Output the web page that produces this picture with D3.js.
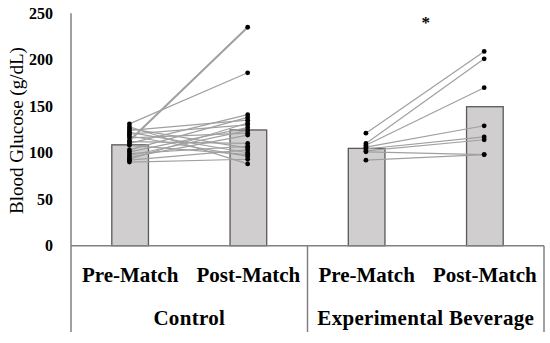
<!DOCTYPE html>
<html>
<head>
<meta charset="utf-8">
<script src="https://cdn.jsdelivr.net/npm/d3@7"></script>
<style>
  body { margin: 0; background: #fff; }
  svg { display: block; }
  text { font-family: "Liberation Serif", "DejaVu Serif", serif; fill: #000; }
</style>
</head>
<body>
<div id="chart"></div>
<script>
const groups = ['Control', 'Experimental Beverage']
const phases = ['Pre-Match', 'Post-Match']
const yTicks = [0, 50, 100, 150, 200, 250]

// bar heights (group means)
const controlMeans = [108.5, 124.5]
const experimentalMeans = [104.7, 149.5]

// individual paired values, pre vs post
const controlPre = [131, 128, 126, 124, 122, 120, 118, 116, 113, 112, 110, 108, 103, 101, 99, 97, 95, 93, 92, 90]
const controlPost = [186, 88, 105, 135, 100, 130, 96, 121, 235, 110, 141, 98, 138, 127, 107, 124, 119, 132, 103, 93]
const experimentalPre = [121, 110, 108, 106, 104, 102, 101, 92]
const experimentalPost = [209, 201, 170, 129, 117, 114, 98, 98]

const significance = [{ group: 'Experimental Beverage', value: 243, label: '*' }]

const width = 550, height = 343
const svg = d3.select('#chart').append('svg')
    .attr('width', width)
    .attr('height', height)

const left = 71, right = 544, baseY = 245.7, topY = 13.3, bottomY = 332

const categories = []
groups.forEach(g => phases.forEach(p => categories.push(g + '|' + p)))

const x = d3.scaleBand()
    .domain(categories)
    .range([left, right])
    .paddingInner(0.69)
    .paddingOuter(0.345)
const groupX = d3.scaleBand()
    .domain(groups)
    .range([left, right])
const y = d3.scaleLinear()
    .domain([0, 250])
    .range([baseY, topY])

const axisColor = '#808080'

// y axis line + labels
const yAxis = d3.axisLeft(y).tickValues(yTicks).tickSize(0).tickPadding(18)
svg.append('g')
    .attr('transform', 'translate(' + left + ',0)')
    .call(yAxis)
    .call(g => g.select('.domain').attr('stroke', axisColor).attr('stroke-width', 1.5).attr('d', 'M0,' + topY + 'V' + bottomY))
    .call(g => g.selectAll('text')
        .style('font-family', '"Liberation Serif", serif')
        .style('font-size', '16px')
        .style('font-weight', 'bold')
        .attr('fill', '#000'))

svg.append('text')
    .attr('transform', 'translate(23,' + (y(125) + 1) + ') rotate(-90)')
    .attr('text-anchor', 'middle')
    .style('font-size', '19px')
    .text('Blood Glucose (g/dL)')

// bars
const means = { 'Control': controlMeans, 'Experimental Beverage': experimentalMeans }
const barData = []
groups.forEach(g => phases.forEach((p, i) => barData.push({ key: g + '|' + p, value: means[g][i] })))

svg.append('g').selectAll('rect')
    .data(barData)
    .enter().append('rect')
    .attr('x', d => x(d.key))
    .attr('y', d => y(d.value))
    .attr('width', x.bandwidth())
    .attr('height', d => y(0) - y(d.value))
    .attr('fill', '#d0cece')
    .attr('stroke', '#595959')
    .attr('stroke-width', 1.3)

// paired lines and dots
const cx = key => x(key) + x.bandwidth() / 2 - 0.7
const pairs = [
  { group: 'Control', pre: controlPre, post: controlPost },
  { group: 'Experimental Beverage', pre: experimentalPre, post: experimentalPost }
]

pairs.forEach(s => {
  const preKey = s.group + '|Pre-Match', postKey = s.group + '|Post-Match'
  const g = svg.append('g')
  g.selectAll('line')
      .data(d3.zip(s.pre, s.post))
      .enter().append('line')
      .attr('x1', cx(preKey))
      .attr('y1', d => y(d[0]))
      .attr('x2', cx(postKey))
      .attr('y2', d => y(d[1]))
      .attr('stroke', '#a0a0a0')
      .attr('stroke-width', d => d[1] > 220 ? 2 : 1.2)
  g.selectAll('circle.pre')
      .data(s.pre)
      .enter().append('circle')
      .attr('class', 'pre')
      .attr('cx', cx(preKey))
      .attr('cy', d => y(d))
      .attr('r', 2.4)
      .attr('fill', '#000')
  g.selectAll('circle.post')
      .data(s.post)
      .enter().append('circle')
      .attr('class', 'post')
      .attr('cx', cx(postKey))
      .attr('cy', d => y(d))
      .attr('r', 2.4)
      .attr('fill', '#000')
})

// significance marker
svg.selectAll('text.sig')
    .data(significance)
    .enter().append('text')
    .attr('class', 'sig')
    .attr('x', d => groupX(d.group) + groupX.bandwidth() / 2)
    .attr('y', d => y(d.value) + 8)
    .attr('text-anchor', 'middle')
    .style('font-size', '17px')
    .style('font-weight', 'bold')
    .text(d => d.label)

// category axis: baseline, separators, labels
svg.append('line')
    .attr('x1', left).attr('x2', right)
    .attr('y1', baseY).attr('y2', baseY)
    .attr('stroke', axisColor).attr('stroke-width', 1.5)

svg.append('g').selectAll('line')
    .data(groups)
    .enter().append('line')
    .attr('x1', d => groupX(d) + groupX.bandwidth())
    .attr('x2', d => groupX(d) + groupX.bandwidth())
    .attr('y1', baseY).attr('y2', bottomY)
    .attr('stroke', axisColor).attr('stroke-width', 1.5)

svg.append('g').selectAll('text')
    .data(barData)
    .enter().append('text')
    .attr('x', d => x(d.key) + x.bandwidth() / 2)
    .attr('y', 282)
    .attr('text-anchor', 'middle')
    .style('font-size', '21px')
    .style('font-weight', 'bold')
    .text(d => d.key.split('|')[1])

svg.append('g').selectAll('text')
    .data(groups)
    .enter().append('text')
    .attr('x', d => groupX(d) + groupX.bandwidth() / 2)
    .attr('y', 325)
    .attr('text-anchor', 'middle')
    .style('font-size', '21px')
    .style('font-weight', 'bold')
    .style('letter-spacing', '0.3px')
    .text(d => d)
</script>
</body>
</html>
